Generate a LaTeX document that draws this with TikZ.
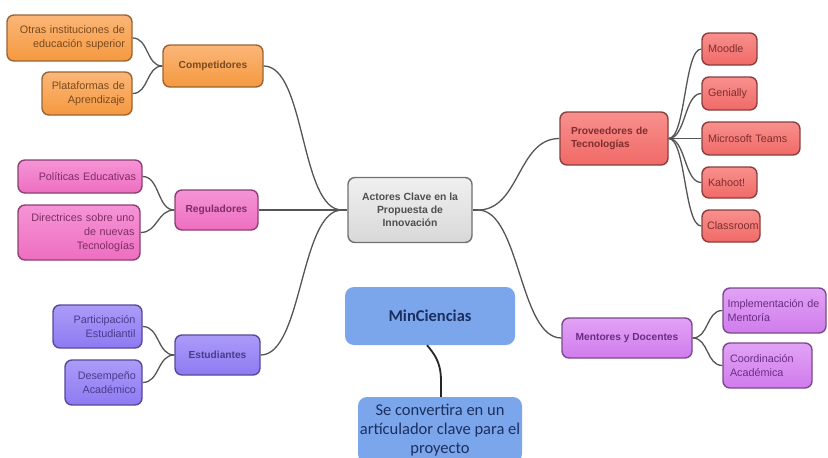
\documentclass[tikz,border=0pt]{standalone}
\usepackage{fontspec}
\setmainfont{Liberation Sans}
\newfontfamily\calib{Carlito}
\definecolor{orT}{HTML}{FBB678}\definecolor{orB}{HTML}{F5993F}\definecolor{orD}{HTML}{9A6535}\definecolor{orX}{HTML}{7A4A1E}
\definecolor{pkT}{HTML}{F594D6}\definecolor{pkB}{HTML}{EE6EC0}\definecolor{pkD}{HTML}{8C3F74}\definecolor{pkX}{HTML}{7E2E64}
\definecolor{puT}{HTML}{AC9CF8}\definecolor{puB}{HTML}{8E7AF2}\definecolor{puD}{HTML}{574A9A}\definecolor{puX}{HTML}{4A3C8C}
\definecolor{rdT}{HTML}{F8908D}\definecolor{rdB}{HTML}{F06A67}\definecolor{rdD}{HTML}{8A3E3E}\definecolor{rdX}{HTML}{7E2E2E}
\definecolor{viT}{HTML}{E2A2F5}\definecolor{viB}{HTML}{D07CEC}\definecolor{viD}{HTML}{7A4A8C}\definecolor{viX}{HTML}{6A2C82}
\definecolor{grT}{HTML}{F0F0F0}\definecolor{grB}{HTML}{D8D8D8}\definecolor{grD}{HTML}{707070}\definecolor{grX}{HTML}{4F4F4F}
\definecolor{blF}{HTML}{7BA6EC}\definecolor{blX}{HTML}{1C2F5E}
\definecolor{lnC}{HTML}{555555}
\begin{document}
\begin{tikzpicture}[x=1pt,y=-1pt,
  box/.style={draw, rounded corners=7pt, line width=1.4pt, inner sep=0pt},
  kid/.style={box, font=\fontsize{10.8}{13.8}\selectfont},
  par/.style={box, font=\fontsize{10.2}{13}\selectfont\bfseries},
  orange/.style={top color=orT, bottom color=orB, draw=orD, text=orX},
  pink/.style={top color=pkT, bottom color=pkB, draw=pkD, text=pkX},
  purp/.style={top color=puT, bottom color=puB, draw=puD, text=puX},
  redd/.style={top color=rdT, bottom color=rdB, draw=rdD, text=rdX},
  viol/.style={top color=viT, bottom color=viB, draw=viD, text=viX},
  grey/.style={top color=grT, bottom color=grB, draw=grD, text=grX},
  blue/.style={fill=blF, draw=none, rounded corners=9pt, text=blX, inner sep=0pt},
  sz/.style n args={2}{minimum width=#1pt, minimum height=#2pt},
  tr/.style={text width=#1pt, align=right},
  tl/.style={text width=#1pt, align=left},
  link/.style={draw=lnC, line width=1.3pt}
]
\useasboundingbox (0,0) rectangle (828,458);
\fill[white] (0,0) rectangle (828,458);

% center
\node[par, grey, sz={124}{65}, align=center, font=\fontsize{10.4}{13}\selectfont\bfseries] (ctr) at (410,210) {Actores Clave en la\\Propuesta de\\Innovación};
\coordinate (hubL) at (342,210);
\coordinate (hubR) at (478,210);

% left side
\node[par, orange, sz={100}{42}] (comp) at (213,66) {Competidores};
\node[kid, orange, sz={125}{46}, tr=111] (otras) at (69.5,38) {Otras instituciones de\\educación superior};
\node[kid, orange, sz={90}{43}, tr=76] (plat) at (87,93.5) {Plataformas de\\Aprendizaje};

\node[par, pink, sz={83}{40}] (regu) at (216.5,210) {Reguladores};
\node[kid, pink, sz={124}{33}, tr=112] (poli) at (80,176.5) {Políticas Educativas};
\node[kid, pink, sz={122}{55}, tr=111] (dire) at (79,232.5) {Directrices sobre uno\\de nuevas\\Tecnologías};

\node[par, purp, sz={85}{40}] (estu) at (217.5,355) {Estudiantes};
\node[kid, purp, sz={89}{43}, tr=76] (part) at (97.5,326.5) {Participación\\Estudiantil};
\node[kid, purp, sz={77}{45}, tr=65] (dese) at (103.5,382.5) {Desempeño\\Académico};

% right side
\node[par, redd, sz={108}{53}, tl=86] (prov) at (614,138.5) {Proveedores de\\Tecnologías};
\node[kid, redd, sz={55}{32}, tl=43] (mood) at (729.5,49) {Moodle};
\node[kid, redd, sz={55}{33}, tl=43] (genl) at (729.5,93.5) {Genially};
\node[kid, redd, sz={98}{33}, tl=86] (team) at (751,138.5) {Microsoft Teams};
\node[kid, redd, sz={55}{31}, tl=43] (kaho) at (729.5,182.5) {Kahoot!};
\node[kid, redd, sz={58}{32}, tl=48] (clas) at (731,226) {Classroom};

\node[par, viol, sz={130}{40}] (ment) at (627,338) {Mentores y Docentes};
\node[kid, viol, sz={103}{45}, tl=94] (impl) at (774.5,310.5) {Implementación de\\Mentoría};
\node[kid, viol, sz={89}{45}, tl=75] (coor) at (767.5,365.5) {Coordinación\\Académica};

% MinCiencias
\node[blue, sz={170}{58}, font=\calib\fontsize{16.5}{19}\selectfont\bfseries] (minc) at (430,316) {MinCiencias};
\node[blue, sz={164}{66}, align=center, font=\calib\fontsize{16.5}{19}\selectfont] (arti) at (440,430) {Se convertira en un\\artículador clave para el\\proyecto};

% connectors
\draw[link] (comp.east) .. controls +(42,0) and +(-42,0) .. (hubL);
\draw[link] (regu.east) -- (hubL);
\draw[link] (estu.east) .. controls +(42,0) and +(-42,0) .. (hubL);
\draw[link] (hubL) -- (ctr.west);
\draw[link] (otras.east) .. controls +(16,0) and +(-16,0) .. (comp.west);
\draw[link] (plat.east) .. controls +(16,0) and +(-16,0) .. (comp.west);
\draw[link] (poli.east) .. controls +(17,0) and +(-17,0) .. (regu.west);
\draw[link] (dire.east) .. controls +(17,0) and +(-17,0) .. (regu.west);
\draw[link] (part.east) .. controls +(17,0) and +(-17,0) .. (estu.west);
\draw[link] (dese.east) .. controls +(17,0) and +(-17,0) .. (estu.west);

\draw[link] (ctr.east) -- (hubR);
\draw[link] (hubR) .. controls +(42,0) and +(-42,0) .. (prov.west);
\draw[link] (hubR) .. controls +(42,0) and +(-42,0) .. (ment.west);
\foreach \k in {mood,genl,team,kaho,clas}{
  \draw[link] (prov.east) .. controls +(17,0) and +(-17,0) .. (\k.west);
}
\draw[link] (ment.east) .. controls +(16,0) and +(-16,0) .. (impl.west);
\draw[link] (ment.east) .. controls +(16,0) and +(-16,0) .. (coor.west);

\draw[line width=1.8pt, black!85] ([xshift=-3pt]minc.south) .. controls +(16,18) and +(0,-22) .. ([xshift=1pt]arti.north);
\end{tikzpicture}
\end{document}
